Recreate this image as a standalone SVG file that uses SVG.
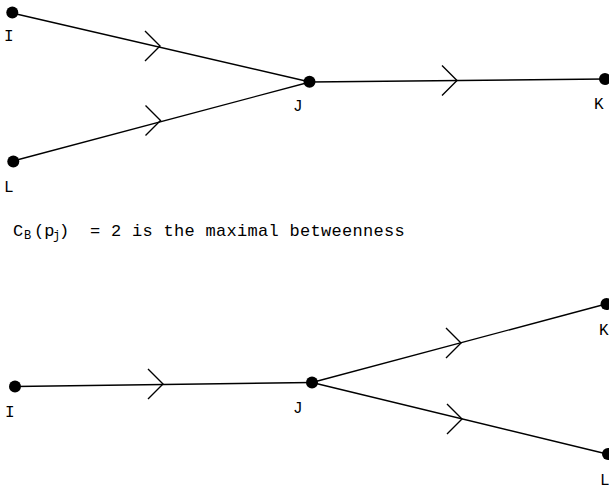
<svg xmlns="http://www.w3.org/2000/svg" width="609" height="489" viewBox="0 0 609 489">
<style>
.e{stroke:#000;stroke-width:1.4;fill:none}
.n{fill:#000}
.lb{font-family:"Liberation Mono","DejaVu Sans Mono",monospace;font-size:16px;fill:#000}
.tx{font-family:"Liberation Mono","DejaVu Sans Mono",monospace;font-size:17px;fill:#000}
.sb{font-size:12px}
</style>
<defs>
<path id="chev" d="M-15,-15 L0,0 L-15,15" class="e"/>
</defs>
<rect width="609" height="489" fill="#fff"/>
<g id="connectors">
<line class="e" x1="12" y1="13" x2="310" y2="82"/>
<line class="e" x1="13" y1="161" x2="310" y2="82"/>
<line class="e" x1="310" y1="82" x2="605" y2="79"/>
<use href="#chev" x="160" y="46"/>
<use href="#chev" x="160.5" y="120.5"/>
<use href="#chev" x="457" y="80.5"/>
<line class="e" x1="15" y1="386.5" x2="312" y2="382.5"/>
<line class="e" x1="312" y1="382.5" x2="606" y2="304"/>
<line class="e" x1="312" y1="382.5" x2="607" y2="454"/>
<use href="#chev" x="163" y="384"/>
<use href="#chev" x="461" y="343"/>
<use href="#chev" x="462" y="419"/>
</g>
<g id="top-I"><circle class="n" cx="12.3" cy="12.5" r="6"/><text class="lb" x="4" y="41">I</text></g>
<g id="top-L"><circle class="n" cx="13.3" cy="161.5" r="6"/><text class="lb" x="4" y="192">L</text></g>
<g id="top-J"><circle class="n" cx="309.5" cy="81.8" r="6"/><text class="lb" x="293" y="111">J</text></g>
<g id="top-K"><circle class="n" cx="605" cy="79" r="6"/><text class="lb" x="594" y="109">K</text></g>
<g id="caption">
<text class="tx" x="13" y="236">C</text>
<text class="tx sb" x="24" y="239">B</text>
<text class="tx" x="34" y="236">(p</text>
<text class="tx sb" x="53" y="239">j</text>
<text class="tx" x="59" y="236">)</text>
<text class="tx" x="90" y="236" letter-spacing="0.3">= 2 is the maximal betweenness</text>
</g>
<g id="bot-I"><circle class="n" cx="15" cy="386.5" r="6"/><text class="lb" x="5" y="417">I</text></g>
<g id="bot-J"><circle class="n" cx="312" cy="382.5" r="6"/><text class="lb" x="293" y="413">J</text></g>
<g id="bot-K"><circle class="n" cx="606.5" cy="304" r="6"/><text class="lb" x="599" y="335">K</text></g>
<g id="bot-L"><circle class="n" cx="608" cy="454" r="6"/><text class="lb" x="600" y="485">L</text></g>
</svg>
